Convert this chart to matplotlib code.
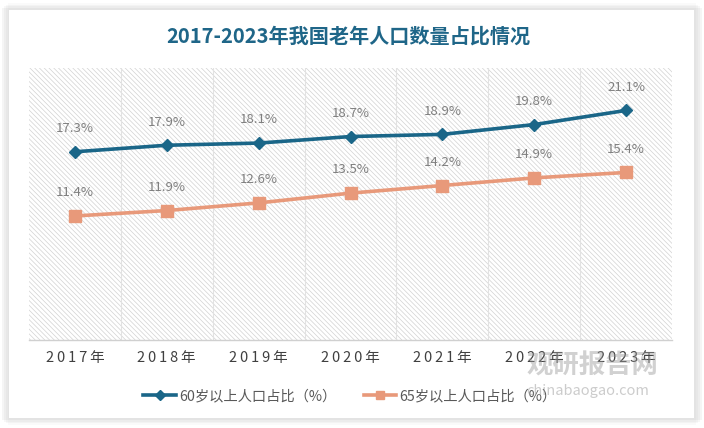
import matplotlib
matplotlib.use("Agg")
import matplotlib.pyplot as plt
from matplotlib.patches import Rectangle
from matplotlib.lines import Line2D

plt.rcParams['font.family'] = ['Noto Sans CJK SC', 'DejaVu Sans']
plt.rcParams['hatch.linewidth'] = 0.5

years = ['2017年', '2018年', '2019年', '2020年', '2021年', '2022年', '2023年']
share_60 = [17.3, 17.9, 18.1, 18.7, 18.9, 19.8, 21.1]
share_65 = [11.4, 11.9, 12.6, 13.5, 14.2, 14.9, 15.4]
name_60 = '60岁以上人口占比（%）'
name_65 = '65岁以上人口占比（%）'
title = '2017-2023年我国老年人口数量占比情况'

W, H = 704, 428
fig = plt.figure(figsize=(W / 100, H / 100), dpi=100)
fig.patch.set_facecolor('white')

# card shadow
for i, a in enumerate([0.04, 0.05, 0.06, 0.08]):
    d = 8 - 2 * i
    fig.patches.append(Rectangle((d / W, (10 - d * 0.9) / H), (W - 2 * d) / W, (H - 20 + 1.8 * d) / H,
                                 transform=fig.transFigure, facecolor='#808080', alpha=a,
                                 edgecolor='none', zorder=0))
fig.patches.append(Rectangle((9 / W, 10 / H), 685 / W, 408 / H, transform=fig.transFigure,
                             facecolor='white', edgecolor='none', zorder=1))

ax = fig.add_axes([29 / W, (H - 340) / H, (672 - 29) / W, (340 - 68) / H])
ax.set_zorder(2)
ax.patch.set_alpha(0)
ax.add_patch(Rectangle((0, 0), 1, 1, transform=ax.transAxes, facecolor='white',
                       edgecolor='#d2d2d2', hatch='\\\\\\\\\\\\\\', linewidth=0, zorder=0))

x = list(range(len(years)))
ax.plot(x, share_60, color='#1a6688', lw=2.6, marker='D', ms=6.5, zorder=4, label=name_60)
ax.plot(x, share_65, color='#e8997a', lw=2.6, marker='s', ms=8, zorder=4, label=name_65)

for xi, v in zip(x, share_60):
    ax.annotate(f'{v}%', (xi, v), xytext=(0, 12), textcoords='offset points',
                ha='center', va='bottom', fontsize=9.5, color='#7f7f7f', zorder=5)
for xi, v in zip(x, share_65):
    ax.annotate(f'{v}%', (xi, v), xytext=(0, 12), textcoords='offset points',
                ha='center', va='bottom', fontsize=9.5, color='#7f7f7f', zorder=5)

ax.set_xlim(-0.5, len(years) - 0.5)
ax.set_ylim(0, 25)
for b in range(1, len(years)):
    ax.axvline(b - 0.5, color='#e2e2e2', lw=0.8, zorder=1)
ax.set_yticks([])
ax.set_xticks(x)
ax.set_xticklabels(['\u2009'.join(list(y[:4])) + '\u2009' + y[4:] for y in years],
                   fontsize=10.5, color='#404040')
ax.tick_params(axis='x', length=0, pad=8)
for s in ['top', 'right', 'left']:
    ax.spines[s].set_visible(False)
ax.spines['bottom'].set_color('#d0d0d0')
ax.spines['bottom'].set_linewidth(1)

fig.text(0.495, (H - 36) / H, title, ha='center', va='center', fontsize=14.5,
         fontweight='bold', color='#1f6688', zorder=5)

# watermark
fig.text(527 / W, (H - 366) / H, '观研报告网', ha='left', va='center', fontsize=19,
         fontweight='bold', color='#9a9a9a', alpha=0.45, zorder=6)
fig.text(588 / W, (H - 391) / H, 'chinabaogao.com', ha='center', va='center', fontsize=10.5,
         color='#9a9a9a', alpha=0.5, zorder=6)

handles = [Line2D([], [], color='#1a6688', lw=2.6, marker='D', ms=5),
           Line2D([], [], color='#e8997a', lw=2.6, marker='s', ms=6)]
fig.legend(handles, [name_60, name_65], loc='center', bbox_to_anchor=(0.497, (H - 396) / H),
           ncol=2, frameon=False, fontsize=10.3, labelcolor='#595959', handlelength=2.3,
           handletextpad=0.2, columnspacing=1.9)

fig.savefig('out.png', dpi=100)
